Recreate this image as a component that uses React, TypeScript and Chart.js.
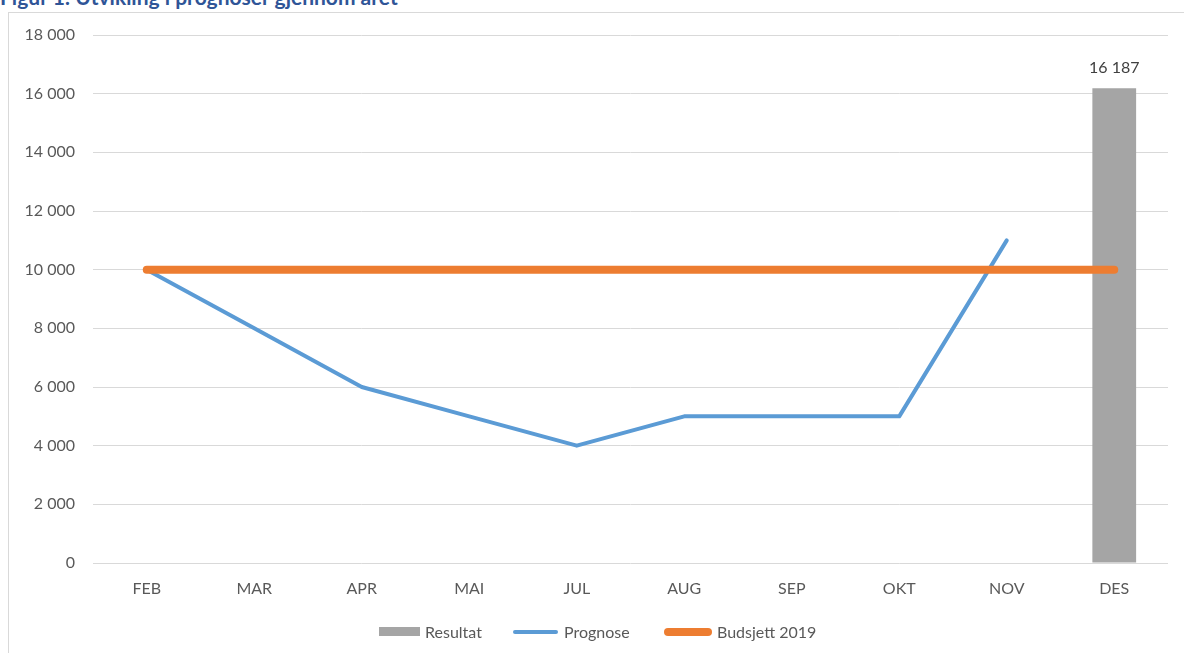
import React, { useEffect, useRef } from "react";
import { Chart, registerables } from "chart.js";

Chart.register(...registerables);

const categories = ["FEB", "MAR", "APR", "MAI", "JUL", "AUG", "SEP", "OKT", "NOV", "DES"];
const resultat = [null, null, null, null, null, null, null, null, null, 16187];
const prognose = [10000, 8000, 6000, 5000, 4000, 5000, 5000, 5000, 11000, null];
const budsjett = [10000, 10000, 10000, 10000, 10000, 10000, 10000, 10000, 10000, 10000];
const yTicks = [0, 2000, 4000, 6000, 8000, 10000, 12000, 14000, 16000, 18000];
const titleText = "Figur 1: Utvikling i prognoser gjennom året";
const seriesNames = ["Resultat", "Prognose", "Budsjett 2019"];

const GRAY = "#A5A5A5";
const BLUE = "#5B9BD5";
const ORANGE = "#ED7D31";
const FONT = "Lato, 'Open Sans', sans-serif";

const fmt = (v: number) => String(v).replace(/\B(?=(\d{3})+(?!\d))/g, " ");

const labelPlugin = {
  id: "barLabel",
  afterDatasetsDraw(chart: any) {
    const meta = chart.getDatasetMeta(0);
    const ctx = chart.ctx;
    ctx.save();
    ctx.font = `16px ${FONT}`;
    ctx.fillStyle = "#404040";
    ctx.textAlign = "center";
    ctx.textBaseline = "middle";
    meta.data.forEach((el: any, i: number) => {
      const v = resultat[i];
      if (v == null) return;
      ctx.fillText(fmt(v), el.x, el.y - 20);
    });
    ctx.restore();
  },
};

export default function App() {
  const ref = useRef<HTMLCanvasElement>(null);
  useEffect(() => {
    if (!ref.current) return;
    const chart = new Chart(ref.current, {
      type: "bar",
      data: {
        labels: categories,
        datasets: [
          {
            type: "bar",
            label: seriesNames[0],
            data: resultat as any,
            backgroundColor: GRAY,
            categoryPercentage: 1,
            barPercentage: 0.407,
            order: 2,
          },
          {
            type: "line",
            label: seriesNames[1],
            data: prognose as any,
            borderColor: BLUE,
            borderWidth: 4,
            borderCapStyle: "round",
            borderJoinStyle: "round",
            pointRadius: 0,
            tension: 0,
            order: 1,
          },
          {
            type: "line",
            label: seriesNames[2],
            data: budsjett,
            borderColor: ORANGE,
            borderWidth: 8,
            borderCapStyle: "round",
            borderJoinStyle: "round",
            pointRadius: 0,
            tension: 0,
            order: 0,
          },
        ] as any,
      },
      options: {
        animation: false,
        responsive: false,
        maintainAspectRatio: false,
        layout: { padding: { top: 35, right: 16, left: 0, bottom: 0 } },
        plugins: { legend: { display: false }, tooltip: { enabled: false }, title: { display: false } },
        scales: {
          x: {
            offset: true,
            grid: { display: false, drawTicks: false },
            border: { display: false },
            ticks: { color: "#595959", font: { family: FONT, size: 16 }, padding: 16, maxRotation: 0 },
            afterFit: (s: any) => { s.height = 90; },
          },
          y: {
            min: 0,
            max: 18000,
            afterBuildTicks: (s: any) => { s.ticks = yTicks.map((v) => ({ value: v })); },
            grid: { color: "#D9D9D9", lineWidth: 1, drawTicks: false },
            border: { display: false },
            ticks: { color: "#595959", font: { family: FONT, size: 16 }, padding: 18, callback: (v: any) => fmt(Number(v)) },
            afterFit: (s: any) => { s.width = 93; },
          },
        },
      },
      plugins: [labelPlugin],
    });
    return () => chart.destroy();
  }, []);

  const textStyle: React.CSSProperties = {
    position: "absolute",
    top: 622,
    fontFamily: FONT,
    fontSize: 16,
    lineHeight: "20px",
    color: "#595959",
    whiteSpace: "nowrap",
  };

  return (
    <div style={{ position: "absolute", left: 0, top: 0, width: 1184, height: 653, overflow: "hidden", background: "#fff" }}>
      <div style={{ position: "absolute", left: 8, top: 12, width: 1200, height: 700, border: "1px solid #D9D9D9", boxSizing: "border-box" }} />
      <div style={{ position: "absolute", left: 0, top: -15, fontFamily: FONT, fontWeight: 700, fontSize: 21, lineHeight: "24px", color: "#2F5597", whiteSpace: "nowrap" }}>
        {titleText}
      </div>
      <canvas ref={ref} width={1184} height={653} style={{ position: "absolute", left: 0, top: 0 }} />
      <div style={{ position: "absolute", left: 379, top: 627, width: 41, height: 9, background: GRAY }} />
      <div style={{ ...textStyle, left: 425 }}>{seriesNames[0]}</div>
      <div style={{ position: "absolute", left: 513, top: 630, width: 45, height: 4, borderRadius: 2, background: BLUE }} />
      <div style={{ ...textStyle, left: 564 }}>{seriesNames[1]}</div>
      <div style={{ position: "absolute", left: 664, top: 628, width: 48, height: 8, borderRadius: 4, background: ORANGE }} />
      <div style={{ ...textStyle, left: 717 }}>{seriesNames[2]}</div>
    </div>
  );
}
